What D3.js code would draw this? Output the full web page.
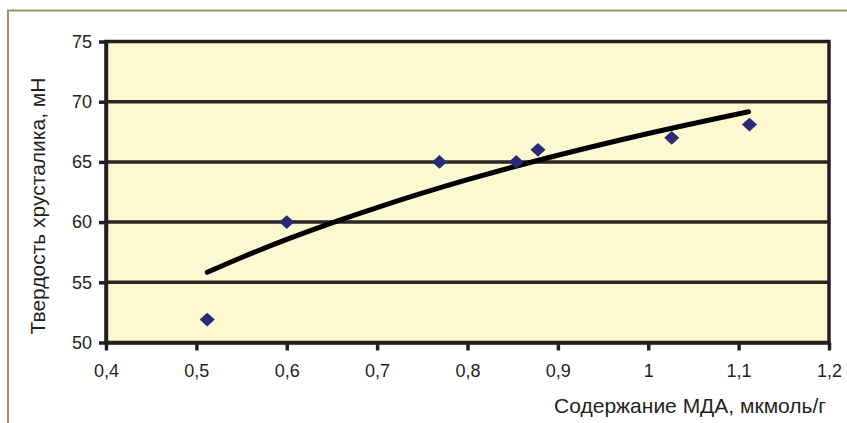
<!DOCTYPE html>
<html>
<head>
<meta charset="utf-8">
<script src="https://cdn.jsdelivr.net/npm/d3@7"></script>
<style>
  html, body { margin: 0; padding: 0; background: #ffffff; }
  svg { display: block; }
  text { font-family: "Liberation Sans", Arial, sans-serif; fill: #231f20; }
</style>
</head>
<body>
<svg id="chart" width="847" height="423"></svg>
<script>
// Содержание МДА (мкмоль/г) и твердость хрусталика (мН)
const mdaValues = [0.512, 0.6, 0.769, 0.854, 0.878, 1.026, 1.112];
const hardnessValues = [51.9, 60, 65, 65, 66, 67, 68.1];

// Логарифмическая линия тренда, точки по кривой
const trendX = [0.512, 0.55, 0.6, 0.65, 0.7, 0.8, 0.9, 1.0, 1.111];
const trendY = [55.83, 57.06, 58.56, 59.94, 61.21, 63.52, 65.55, 67.36, 69.17];

const xTickValues = [0.4, 0.5, 0.6, 0.7, 0.8, 0.9, 1.0, 1.1, 1.2];
const xTickLabels = ["0,4", "0,5", "0,6", "0,7", "0,8", "0,9", "1", "1,1", "1,2"];
const yTickValues = [50, 55, 60, 65, 70, 75];

const xTitle = "Содержание МДА, мкмоль/г";
const yTitle = "Твердость хрусталика, мН";

const svg = d3.select("#chart");
const plot = { left: 106, right: 829, top: 41.5, bottom: 342.5 };

const x = d3.scaleLinear().domain([0.4, 1.2]).range([plot.left, plot.right]);
const y = d3.scaleLinear().domain([50, 75]).range([plot.bottom, plot.top]);

// outer frame (top and left edges)
svg.append("path")
  .attr("d", "M8,423 L8,10.5 L847,10.5")
  .attr("fill", "none")
  .attr("stroke", "#a38d62")
  .attr("stroke-width", 2);

// plot background
svg.append("rect")
  .attr("x", plot.left).attr("y", plot.top)
  .attr("width", plot.right - plot.left).attr("height", plot.bottom - plot.top)
  .attr("fill", "#fcf8d1");

// horizontal gridlines
svg.append("g")
  .selectAll("line")
  .data(yTickValues.slice(1, -1))
  .join("line")
  .attr("x1", plot.left).attr("x2", plot.right)
  .attr("y1", d => y(d)).attr("y2", d => y(d))
  .attr("stroke", "#2a2623")
  .attr("stroke-width", 3.5);

// frame of the plot area
svg.append("rect")
  .attr("x", plot.left).attr("y", plot.top)
  .attr("width", plot.right - plot.left).attr("height", plot.bottom - plot.top)
  .attr("fill", "none")
  .attr("stroke", "#231f20")
  .attr("stroke-width", 3.5);

// x axis
const xAxis = d3.axisBottom(x)
  .tickValues(xTickValues)
  .tickFormat((d, i) => xTickLabels[i])
  .tickSize(8)
  .tickPadding(14)
  .tickSizeOuter(0);
const gx = svg.append("g")
  .attr("transform", `translate(0,${plot.bottom})`)
  .call(xAxis);
gx.select(".domain").attr("stroke", "#231f20").attr("stroke-width", 3.5);
gx.selectAll(".tick line").attr("stroke", "#231f20").attr("stroke-width", 3.5);
gx.selectAll(".tick text")
  .attr("font-size", 18)
  .attr("font-family", "Liberation Sans, Arial, sans-serif")
  .attr("fill", "#231f20");

// y axis
const yAxis = d3.axisLeft(y)
  .tickValues(yTickValues)
  .tickSize(7)
  .tickPadding(7)
  .tickSizeOuter(0);
const gy = svg.append("g")
  .attr("transform", `translate(${plot.left},0)`)
  .call(yAxis);
gy.select(".domain").attr("stroke", "#231f20").attr("stroke-width", 3.5);
gy.selectAll(".tick line").attr("stroke", "#231f20").attr("stroke-width", 3.5);
gy.selectAll(".tick text")
  .attr("font-size", 18)
  .attr("font-family", "Liberation Sans, Arial, sans-serif")
  .attr("fill", "#231f20");

// trend line
const trend = trendX.map((d, i) => [d, trendY[i]]);
svg.append("path")
  .datum(trend)
  .attr("fill", "none")
  .attr("stroke", "#000000")
  .attr("stroke-width", 5)
  .attr("stroke-linecap", "round")
  .attr("d", d3.line().x(d => x(d[0])).y(d => y(d[1])).curve(d3.curveMonotoneX));

// data markers (diamonds, slightly wider than tall)
const diamond = d3.symbol().type(d3.symbolDiamond2).size(145);
svg.append("g")
  .selectAll("path")
  .data(mdaValues.map((d, i) => [d, hardnessValues[i]]))
  .join("path")
  .attr("transform", d => `translate(${x(d[0])},${y(d[1])}) scale(1,0.92)`)
  .attr("d", diamond)
  .attr("fill", "#2a2a76");

// axis titles
svg.append("text")
  .attr("x", 826).attr("y", 413)
  .attr("text-anchor", "end")
  .attr("font-size", 21)
  .text(xTitle);

svg.append("text")
  .attr("transform", "translate(45,206) rotate(-90)")
  .attr("text-anchor", "middle")
  .attr("font-size", 21)
  .text(yTitle);
</script>
</body>
</html>
